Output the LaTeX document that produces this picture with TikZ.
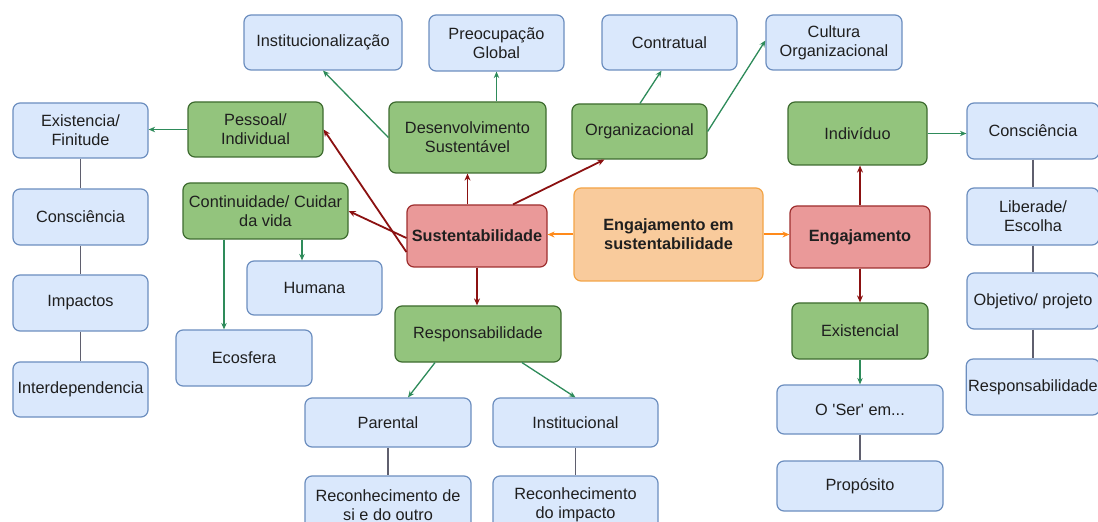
\documentclass[tikz,border=0pt]{standalone}
\usepackage{fontspec}
\setmainfont{Liberation Sans}
\usetikzlibrary{arrows.meta}
\definecolor{bluefill}{HTML}{DAE8FC}
\definecolor{bluedraw}{HTML}{6C8EBF}
\definecolor{greenfill}{HTML}{93C47D}
\definecolor{greendraw}{HTML}{3D6B2F}
\definecolor{redfill}{HTML}{EA9999}
\definecolor{reddraw}{HTML}{9E2F2F}
\definecolor{orangefill}{HTML}{F9CB9C}
\definecolor{orangedraw}{HTML}{F3A446}
\definecolor{linkgreen}{HTML}{2E8B5A}
\definecolor{linkred}{HTML}{8B1111}
\definecolor{linkorange}{HTML}{FF8A1A}
\definecolor{linkgray}{HTML}{5F5F6E}
\tikzset{
  box/.style={rounded corners=7bp, line width=1.2bp, align=center, inner sep=2bp,
    font=\fontsize{16.3bp}{19bp}\selectfont, text=black!88},
  sz/.style 2 args={minimum width=#1bp, minimum height=#2bp},
  leaf/.style={box, fill=bluefill, draw=bluedraw},
  topic/.style={box, fill=greenfill, draw=greendraw},
  hub/.style={box, fill=redfill, draw=reddraw, font=\fontsize{16.3bp}{19bp}\selectfont\bfseries},
  rootbox/.style={box, fill=orangefill, draw=orangedraw, font=\fontsize{16.3bp}{19bp}\selectfont\bfseries},
  gar/.style={draw=linkgreen, line width=1.3bp, -{Stealth[length=6.5bp,width=5.5bp]}, fill=linkgreen},
  rar/.style={draw=linkred, line width=1.8bp, -{Stealth[length=7bp,width=6bp]}, fill=linkred},
  oar/.style={draw=linkorange, line width=2bp, -{Stealth[length=7bp,width=6bp]}, fill=linkorange},
  tie/.style={draw=linkgray, line width=1.2bp},
}
\begin{document}
\begin{tikzpicture}[x=1bp, y=-1bp]
\useasboundingbox (0,0) rectangle (1098,522);
\clip (0,0) rectangle (1098,522);

% top row
\node[leaf, sz={158}{55}] (inst) at (323,42.5) {Institucionalização};
\node[leaf, sz={135}{56}] (preo) at (496.5,43) {Preocupação\\Global};
\node[leaf, sz={135}{55}] (contr) at (669.5,42.5) {Contratual};
\node[leaf, sz={136}{55}] (cult) at (834,42.5) {Cultura\\Organizacional};

% second row
\node[leaf, sz={135}{55}] (exist) at (80.5,130.5) {Existencia/\\Finitude};
\node[topic, sz={135}{55}] (pess) at (255.5,129.5) {Pessoal/\\Individual};
\node[topic, sz={157}{71}] (desen) at (467.5,137.5) {Desenvolvimento\\Sustentável};
\node[topic, sz={135}{55}] (org) at (639.5,131.5) {Organizacional};
\node[topic, sz={139}{63}] (indiv) at (857.5,133.5) {Indivíduo};
\node[leaf, sz={132}{56}] (consR) at (1033,131) {Consciência};

% middle row
\node[topic, sz={165}{56}] (cont) at (265.5,211) {Continuidade/ Cuidar\\da vida};
\node[leaf, sz={135}{56}] (consL) at (80.5,217) {Consciência};
\node[hub, sz={140}{62}] (sust) at (477,236) {Sustentabilidade};
\node[rootbox, sz={189}{93}] (engs) at (668.5,234.5) {Engajamento em\\sustentabilidade};
\node[hub, sz={140}{62}] (eng) at (860,237) {Engajamento};
\node[leaf, sz={132}{57}] (lib) at (1033,216.5) {Liberade/\\Escolha};

% lower rows
\node[leaf, sz={135}{54}] (hum) at (314.5,288) {Humana};
\node[leaf, sz={135}{56}] (imp) at (80.5,303) {Impactos};
\node[leaf, sz={132}{56}] (obj) at (1033,301) {Objetivo/ projeto};
\node[topic, sz={166}{56}] (resp) at (478,334) {Responsabilidade};
\node[topic, sz={136}{56}] (exis) at (860,331) {Existencial};
\node[leaf, sz={136}{56}] (eco) at (244,358) {Ecosfera};
\node[leaf, sz={135}{55}] (inter) at (80.5,389.5) {Interdependencia};
\node[leaf, sz={132}{56}] (respR) at (1033,387) {Responsabilidade};
\node[leaf, sz={166}{49}] (ser) at (860,409.5) {O \textquotesingle Ser\textquotesingle\ em...};
\node[leaf, sz={166}{49}] (par) at (388,422.5) {Parental};
\node[leaf, sz={165}{49}] (instl) at (575.5,422.5) {Institucional};
\node[leaf, sz={166}{50}] (prop) at (860,486) {Propósito};
\node[leaf, sz={166}{58}] (recsi) at (388,505) {Reconhecimento de\\si e do outro};
\node[leaf, sz={165}{58}] (recimp) at (575.5,505) {Reconhecimento\\do impacto};

% central links
\draw[oar] (engs.west) -- (engs.west -| sust.east);
\draw[oar] (engs.east) -- (engs.east -| eng.west);

% links out of Sustentabilidade
\draw[rar] (sust.north -| desen.south) -- (desen.south);
\draw[rar] ([xshift=36bp]sust.north) -- ([xshift=33bp]org.south west);
\draw[rar] ([yshift=-16bp]sust.west) -- (pess.east);
\draw[rar] ([yshift=-2bp]sust.west) -- (cont.east);
\draw[rar] (sust.south) -- (sust.south |- resp.north);

% links out of Engajamento
\draw[rar] (eng.north) -- (eng.north |- indiv.south);
\draw[rar] (eng.south) -- (eng.south |- exis.north);

% second-level links
\draw[gar] (pess.west) -- (pess.west -| exist.east);
\draw[gar] (desen.west) -- (inst.south);
\draw[gar] (preo.south |- desen.north) -- (preo.south);
\draw[gar] ([xshift=0.5bp]org.north) -- ([xshift=-8bp]contr.south);
\draw[gar] (org.east) -- ([yshift=2bp]cult.west);
\draw[gar] (indiv.east) -- (indiv.east -| consR.west);
\coordinate (contA) at ([xshift=-41.5bp]cont.south);
\coordinate (contB) at ([xshift=36.5bp]cont.south);
\draw[gar] (contA) -- (contA |- eco.north);
\draw[gar] (contB) -- (contB |- hum.north);
\draw[gar] ([xshift=-43bp]resp.south) -- ([xshift=20bp]par.north);
\draw[gar] ([xshift=44bp]resp.south) -- (instl.north);
\draw[gar] (exis.south) -- (ser.north);

% plain ties
\draw[tie] (exist) -- (consL);
\draw[tie] (consL) -- (imp);
\draw[tie] (imp) -- (inter);
\draw[tie] (consR) -- (lib);
\draw[tie] (lib) -- (obj);
\draw[tie] (obj) -- (respR);
\draw[tie] (par) -- (recsi);
\draw[tie] (instl) -- (recimp);
\draw[tie] (ser) -- (prop);
\end{tikzpicture}
\end{document}
